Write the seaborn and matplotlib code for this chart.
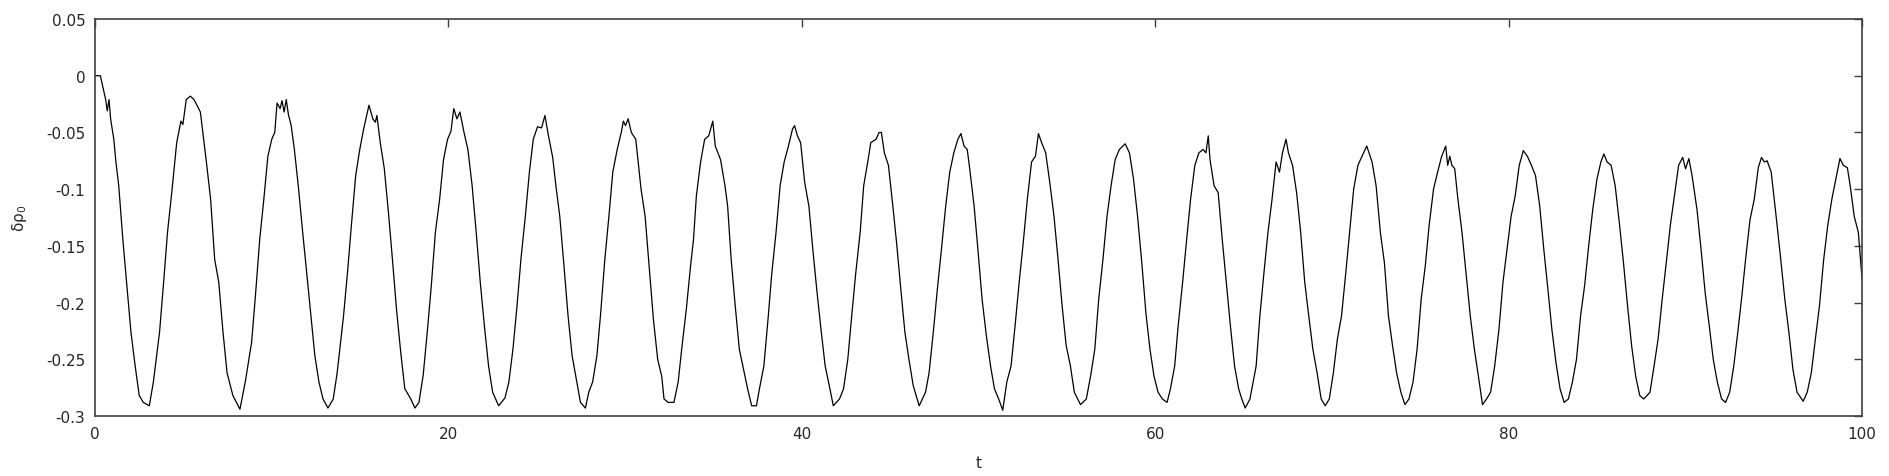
import numpy as np
import pandas as pd
import matplotlib
matplotlib.use("Agg")
import matplotlib.pyplot as plt
import seaborn as sns

# 时间轴 t 与 δρ0
t_vals = [
    0.0, 0.3, 0.6, 0.69, 0.79, 0.88, 1.06, 1.18, 1.34, 1.57, 1.80, 2.03, 2.27, 2.50, 2.73, 3.07,
    3.30, 3.65, 3.88, 4.10, 4.34, 4.62, 4.86, 4.97, 5.16, 5.39, 5.60, 5.96, 6.30, 6.54, 6.77, 7.00,
    7.24, 7.47, 7.80, 8.20, 8.50, 8.86, 9.09, 9.32, 9.55, 9.78, 10.00, 10.17, 10.30, 10.47, 10.58, 10.70,
    10.82, 10.94, 11.10, 11.28, 11.50, 11.75, 11.98, 12.20, 12.44, 12.67, 12.90, 13.18, 13.48, 13.70,
    14.06, 14.30, 14.50, 14.75, 14.98, 15.20, 15.50, 15.72, 15.86, 15.95, 16.14, 16.37, 16.60, 16.83,
    17.06, 17.30, 17.53, 17.87, 18.10, 18.33, 18.57, 18.80, 19.03, 19.26, 19.50, 19.72, 19.95, 20.14,
    20.30, 20.48, 20.65, 20.88, 21.10, 21.34, 21.57, 21.80, 22.03, 22.27, 22.50, 22.84, 23.20, 23.42,
    23.65, 23.88, 24.10, 24.35, 24.58, 24.80, 25.04, 25.27, 25.46, 25.66, 25.90, 26.08, 26.30, 26.54,
    26.77, 27.00, 27.24, 27.47, 27.75, 27.94, 28.16, 28.40, 28.60, 28.85, 29.08, 29.30, 29.55, 29.78,
    29.90, 30.02, 30.17, 30.35, 30.60, 30.90, 31.13, 31.36, 31.60, 31.84, 32.07, 32.20, 32.43, 32.76,
    33.00, 33.20, 33.46, 33.70, 33.87, 34.03, 34.27, 34.50, 34.73, 34.96, 35.10, 35.40, 35.65, 35.80,
    36.00, 36.23, 36.46, 36.70, 36.93, 37.16, 37.43, 37.60, 37.85, 38.10, 38.30, 38.54, 38.77, 39.00,
    39.24, 39.47, 39.59, 39.75, 39.93, 40.16, 40.40, 40.62, 40.86, 41.10, 41.32, 41.55, 41.78, 42.13,
    42.36, 42.60, 42.82, 43.05, 43.30, 43.50, 43.75, 43.90, 44.20, 44.37, 44.50, 44.67, 44.90, 45.13,
    45.36, 45.60, 45.83, 46.06, 46.30, 46.64, 47.00, 47.20, 47.44, 47.67, 47.90, 48.14, 48.37, 48.60,
    48.83, 49.00, 49.18, 49.36, 49.50, 49.75, 49.98, 50.20, 50.44, 50.68, 50.90, 51.14, 51.37, 51.60,
    51.84, 52.07, 52.30, 52.53, 52.76, 53.00, 53.22, 53.39, 53.57, 53.80, 54.03, 54.27, 54.50, 54.73,
    54.96, 55.20, 55.42, 55.77, 56.10, 56.35, 56.58, 56.80, 57.04, 57.27, 57.50, 57.73, 57.97, 58.30,
    58.54, 58.77, 59.00, 59.24, 59.47, 59.70, 59.93, 60.16, 60.40, 60.67, 60.86, 61.10, 61.30, 61.55,
    61.78, 62.00, 62.24, 62.47, 62.70, 62.87, 63.00, 63.10, 63.33, 63.56, 63.79, 64.02, 64.25, 64.49,
    64.72, 64.90, 65.09, 65.36, 65.71, 65.92, 66.15, 66.38, 66.61, 66.84, 67.03, 67.20, 67.40, 67.54,
    67.77, 68.00, 68.23, 68.46, 68.69, 68.92, 69.16, 69.39, 69.62, 69.85, 70.08, 70.31, 70.54, 70.77,
    71.00, 71.23, 71.47, 71.70, 71.97, 72.27, 72.50, 72.74, 72.97, 73.20, 73.43, 73.66, 73.90, 74.13,
    74.36, 74.59, 74.82, 75.05, 75.28, 75.50, 75.75, 75.98, 76.21, 76.44, 76.55, 76.67, 76.79, 76.95,
    77.13, 77.36, 77.60, 77.83, 78.06, 78.29, 78.52, 78.75, 78.98, 79.21, 79.45, 79.68, 79.91, 80.14,
    80.37, 80.60, 80.83, 81.06, 81.29, 81.52, 81.76, 81.99, 82.22, 82.45, 82.68, 82.91, 83.14, 83.38,
    83.61, 83.84, 84.07, 84.30, 84.53, 84.76, 85.00, 85.22, 85.39, 85.57, 85.80, 86.03, 86.26, 86.50,
    86.73, 86.96, 87.19, 87.42, 87.65, 88.00, 88.23, 88.46, 88.69, 88.92, 89.15, 89.38, 89.62, 89.85,
    90.01, 90.20, 90.38, 90.66, 90.89, 91.12, 91.35, 91.58, 91.81, 92.05, 92.28, 92.51, 92.74, 92.97,
    93.20, 93.43, 93.66, 93.90, 94.13, 94.31, 94.47, 94.63, 94.86, 95.16, 95.40, 95.63, 95.86, 96.09,
    96.32, 96.67, 96.90, 97.13, 97.36, 97.59, 97.83, 98.06, 98.29, 98.52, 98.75, 98.94, 99.17, 99.33,
    99.56, 99.79, 100.0,
]
rho_vals = [
    0.0, 0.0, -0.021, -0.031, -0.021, -0.038, -0.056, -0.076, -0.097, -0.144, -0.185, -0.226, -0.256, -0.282, -0.288, -0.291,
    -0.270, -0.226, -0.182, -0.138, -0.103, -0.059, -0.040, -0.043, -0.021, -0.018, -0.021, -0.032, -0.076, -0.109, -0.162, -0.182,
    -0.226, -0.262, -0.282, -0.294, -0.270, -0.235, -0.191, -0.144, -0.109, -0.071, -0.056, -0.050, -0.024, -0.029, -0.022, -0.032,
    -0.021, -0.034, -0.044, -0.065, -0.097, -0.138, -0.174, -0.209, -0.247, -0.270, -0.285, -0.293, -0.285, -0.262,
    -0.212, -0.171, -0.133, -0.088, -0.065, -0.047, -0.026, -0.038, -0.041, -0.035, -0.059, -0.082, -0.120, -0.162,
    -0.206, -0.244, -0.276, -0.285, -0.293, -0.288, -0.264, -0.226, -0.185, -0.138, -0.109, -0.074, -0.056, -0.049,
    -0.029, -0.038, -0.032, -0.050, -0.065, -0.097, -0.138, -0.182, -0.220, -0.256, -0.279, -0.291, -0.284, -0.270,
    -0.241, -0.203, -0.162, -0.124, -0.085, -0.056, -0.045, -0.046, -0.035, -0.053, -0.072, -0.097, -0.124, -0.168,
    -0.212, -0.247, -0.268, -0.288, -0.293, -0.279, -0.270, -0.247, -0.212, -0.162, -0.124, -0.085, -0.065, -0.050,
    -0.040, -0.044, -0.038, -0.050, -0.056, -0.100, -0.124, -0.168, -0.215, -0.250, -0.265, -0.285, -0.288, -0.288,
    -0.270, -0.241, -0.206, -0.168, -0.144, -0.106, -0.076, -0.056, -0.053, -0.040, -0.062, -0.074, -0.097, -0.115,
    -0.162, -0.203, -0.241, -0.259, -0.276, -0.291, -0.291, -0.276, -0.256, -0.212, -0.174, -0.138, -0.097, -0.076,
    -0.062, -0.047, -0.044, -0.053, -0.059, -0.094, -0.115, -0.153, -0.191, -0.226, -0.256, -0.273, -0.291, -0.285,
    -0.276, -0.250, -0.212, -0.174, -0.138, -0.097, -0.074, -0.059, -0.056, -0.050, -0.050, -0.068, -0.079, -0.112,
    -0.147, -0.188, -0.226, -0.250, -0.273, -0.291, -0.279, -0.262, -0.226, -0.188, -0.153, -0.115, -0.085, -0.068,
    -0.056, -0.051, -0.062, -0.065, -0.082, -0.115, -0.156, -0.197, -0.229, -0.256, -0.276, -0.285, -0.295, -0.270,
    -0.256, -0.220, -0.182, -0.147, -0.109, -0.076, -0.071, -0.051, -0.059, -0.068, -0.094, -0.124, -0.162, -0.203,
    -0.238, -0.256, -0.279, -0.290, -0.285, -0.264, -0.241, -0.197, -0.162, -0.124, -0.097, -0.074, -0.065, -0.060,
    -0.068, -0.091, -0.124, -0.165, -0.209, -0.241, -0.265, -0.279, -0.285, -0.288, -0.276, -0.256, -0.220, -0.182,
    -0.144, -0.109, -0.079, -0.068, -0.065, -0.068, -0.053, -0.074, -0.097, -0.103, -0.144, -0.182, -0.220, -0.256,
    -0.276, -0.285, -0.293, -0.285, -0.256, -0.212, -0.174, -0.138, -0.109, -0.076, -0.085, -0.068, -0.056, -0.068,
    -0.079, -0.103, -0.138, -0.182, -0.212, -0.241, -0.262, -0.285, -0.291, -0.285, -0.262, -0.232, -0.212, -0.176,
    -0.138, -0.100, -0.079, -0.071, -0.062, -0.076, -0.097, -0.138, -0.165, -0.212, -0.238, -0.262, -0.279, -0.290,
    -0.285, -0.270, -0.241, -0.197, -0.168, -0.132, -0.100, -0.085, -0.071, -0.062, -0.079, -0.071, -0.079, -0.082,
    -0.109, -0.138, -0.176, -0.212, -0.241, -0.265, -0.290, -0.285, -0.279, -0.256, -0.224, -0.182, -0.153, -0.124,
    -0.106, -0.079, -0.066, -0.071, -0.079, -0.088, -0.115, -0.153, -0.188, -0.224, -0.253, -0.276, -0.288, -0.285,
    -0.270, -0.250, -0.212, -0.185, -0.150, -0.118, -0.091, -0.076, -0.069, -0.076, -0.079, -0.097, -0.129, -0.165,
    -0.203, -0.238, -0.265, -0.282, -0.285, -0.279, -0.256, -0.232, -0.197, -0.165, -0.132, -0.106, -0.079, -0.072,
    -0.082, -0.073, -0.088, -0.118, -0.153, -0.191, -0.220, -0.250, -0.270, -0.285, -0.288, -0.279, -0.256, -0.226,
    -0.194, -0.159, -0.127, -0.109, -0.081, -0.072, -0.076, -0.075, -0.085, -0.127, -0.162, -0.197, -0.226, -0.259,
    -0.279, -0.287, -0.279, -0.262, -0.232, -0.203, -0.162, -0.132, -0.109, -0.091, -0.073, -0.079, -0.081, -0.097,
    -0.124, -0.138, -0.179,
]

x_ticks = [0, 20, 40, 60, 80, 100]
y_ticks = [-0.3, -0.25, -0.2, -0.15, -0.1, -0.05, 0, 0.05]
y_tick_labels = ["-0.3", "-0.25", "-0.2", "-0.15", "-0.1", "-0.05", "0", "0.05"]

df = pd.DataFrame({"t": t_vals, "rho": rho_vals})

sns.set_style("white")
plt.rcParams["font.family"] = ["DejaVu Sans"]

fig = plt.figure(figsize=(18.9, 4.77), dpi=100)
ax = fig.add_axes([0.0503, 0.1258, 0.9349, 0.8322])

sns.lineplot(data=df, x="t", y="rho", color="black", linewidth=0.9,
             estimator=None, sort=False, ax=ax)

ax.set_xlim(0, 100)
ax.set_ylim(-0.3, 0.05)
ax.set_xticks(x_ticks)
ax.set_xticklabels([str(v) for v in x_ticks])
ax.set_yticks(y_ticks)
ax.set_yticklabels(y_tick_labels)

# gnuplot 风格：刻度朝内，四边都有
ax.tick_params(direction="in", length=6, width=1, color="#404040",
               top=True, right=True, labelsize=11, pad=7)
for sp in ax.spines.values():
    sp.set_color("#404040")
    sp.set_linewidth(1.2)

ax.set_xlabel("t", fontsize=11, labelpad=10)
ax.set_ylabel("δρ$_0$", fontsize=11, labelpad=12)

fig.savefig("out.png", dpi=100)
